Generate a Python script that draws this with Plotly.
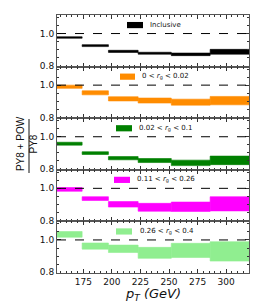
import plotly.graph_objects as go
from plotly.subplots import make_subplots

# pT bin edges (GeV)
edges = [152, 174, 197, 223, 252, 286, 320]

labels = [
    "Inclusive",
    "0 &lt; <i>r</i><sub>g</sub> &lt; 0.02",
    "0.02 &lt; <i>r</i><sub>g</sub> &lt; 0.1",
    "0.11 &lt; <i>r</i><sub>g</sub> &lt; 0.26",
    "0.26 &lt; <i>r</i><sub>g</sub> &lt; 0.4",
]
colors = ["#000000", "#FF8C00", "#008000", "#FF00FF", "#90EE90"]

# band lower / upper edges of the ratio PY8+POW / PY8
incl_lo = [0.971, 0.919, 0.883, 0.872, 0.863, 0.872]
incl_hi = [0.980, 0.931, 0.896, 0.884, 0.879, 0.902]
rg1_lo = [0.980, 0.940, 0.902, 0.889, 0.876, 0.878]
rg1_hi = [1.000, 0.965, 0.928, 0.920, 0.913, 0.930]
rg2_lo = [0.948, 0.890, 0.857, 0.840, 0.821, 0.827]
rg2_hi = [0.966, 0.907, 0.877, 0.865, 0.855, 0.880]
rg3_lo = [0.982, 0.925, 0.884, 0.858, 0.857, 0.860]
rg3_hi = [1.005, 0.948, 0.918, 0.907, 0.915, 0.948]
rg4_lo = [1.017, 0.943, 0.922, 0.886, 0.891, 0.869]
rg4_hi = [1.052, 0.981, 0.968, 0.954, 0.979, 0.989]

lows = [incl_lo, rg1_lo, rg2_lo, rg3_lo, rg4_lo]
highs = [incl_hi, rg1_hi, rg2_hi, rg3_hi, rg4_hi]

centers = [(a + b) / 2 for a, b in zip(edges[:-1], edges[1:])]
widths = [b - a for a, b in zip(edges[:-1], edges[1:])]

fig = make_subplots(rows=5, cols=1, shared_xaxes=True, vertical_spacing=0)

# page body adds an 8px offset; positions below are in reference-image pixels
OFF = 8
L, R = 57, 249
top, bot = 15, 273
W = R - L
H = bot - top

legend_box_x = [(127, 143, 148), (120, 135, 140), (116, 132, 137), (114, 130, 135), (116, 132, 138)]

for i in range(5):
    r = i + 1
    lo, hi = lows[i], highs[i]
    fig.add_trace(
        go.Bar(
            x=centers, y=[h - l for h, l in zip(hi, lo)], base=lo, width=widths,
            marker=dict(color=colors[i], line=dict(width=0.6, color=colors[i])),
            showlegend=False,
        ),
        row=r, col=1,
    )
    fig.add_hline(y=1.0, line=dict(color="black", width=1, dash="dash"), row=r, col=1)
    sfx = "" if r == 1 else str(r)
    bx0, bx1, tx = legend_box_x[i]
    fig.add_shape(
        type="rect", xref=f"x{sfx} domain", yref=f"y{sfx} domain",
        x0=(bx0 - L) / W, x1=(bx1 - L) / W, y0=0.745, y1=0.865,
        fillcolor=colors[i], line=dict(width=0),
    )
    fig.add_annotation(
        xref=f"x{sfx} domain", yref=f"y{sfx} domain", x=(tx - L) / W, y=0.81,
        text=labels[i], showarrow=False, xanchor="left", yanchor="middle",
        font=dict(family="DejaVu Sans", size=7, color="#111"),
    )

fig.update_xaxes(
    range=[edges[0], edges[-1]], tick0=175, dtick=25, ticks="inside", ticklen=4,
    tickcolor="#333", showline=True, linecolor="#555", linewidth=1, mirror="allticks",
    showgrid=False, zeroline=False,
    minor=dict(ticks="inside", dtick=5, ticklen=2, tickcolor="#333", showgrid=False),
    tickfont=dict(family="DejaVu Sans", size=9, color="#111"),
)
fig.update_yaxes(
    range=[0.795, 1.115], tick0=0.8, dtick=0.2, tickformat=".1f", ticks="inside",
    ticklen=4, tickcolor="#333", showline=True, linecolor="#555", linewidth=1,
    mirror="allticks", showgrid=False, zeroline=False,
    minor=dict(ticks="inside", dtick=0.05, ticklen=2, tickcolor="#333", showgrid=False),
    tickfont=dict(family="DejaVu Sans", size=9, color="#111"),
)

# y title as a fraction on the middle panel's axis
fig.update_yaxes(
    title=dict(text="PY8 + POW<br>PY8", standoff=0,
               font=dict(family="Liberation Sans", size=10, color="#111")),
    row=3, col=1,
)
yc = (bot - 146) / H
fig.add_shape(type="line", xref="paper", yref="paper", x0=(29 - L) / W, x1=(29 - L) / W,
              y0=yc - 27 / H, y1=yc + 27 / H, line=dict(color="#111", width=1),
              layer="above")
fig.add_annotation(xref="paper", yref="paper", x=(153 - L) / W, y=(bot - 294) / H,
                   text="<i>p</i><sub><i>T</i></sub> <i>(GeV)</i>", showarrow=False,
                   xanchor="center", yanchor="middle",
                   font=dict(family="DejaVu Sans", size=13, color="#111"))

fig.update_layout(
    width=262 - OFF, height=306 - OFF,
    margin=dict(l=L - OFF, r=262 - R, t=top - OFF, b=306 - bot, autoexpand=False),
    plot_bgcolor="white", paper_bgcolor="white", barmode="overlay",
)

fig.write_html("out.html")
